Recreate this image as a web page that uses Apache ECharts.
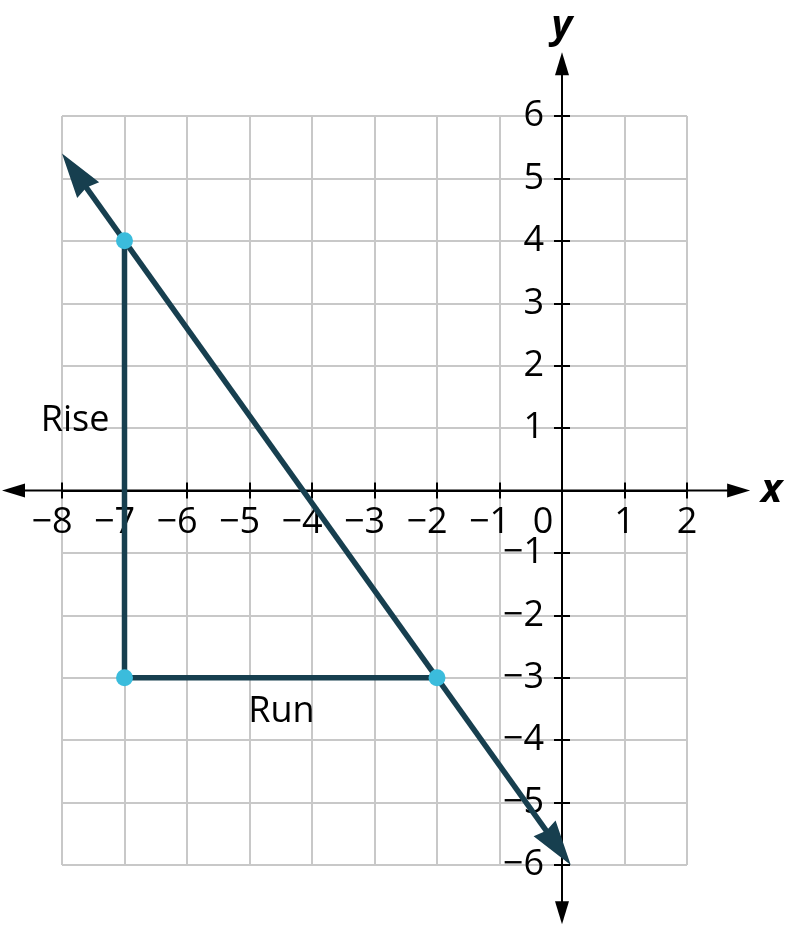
<!DOCTYPE html>
<html>
<head>
<meta charset="utf-8">
<script src="https://cdn.jsdelivr.net/npm/echarts@6/dist/echarts.min.js"></script>
<style>
  html, body { margin: 0; padding: 0; background: #fff; }
  #main { width: 787px; height: 930px; }
</style>
</head>
<body>
<div id="main"></div>
<script>
// axis ranges
const xRange = [-8, 2]
const yRange = [-6, 6]

// right triangle: top corner, right angle, end of run
const trianglePts = [[-7, 4], [-7, -3], [-2, -3]]
// the line, from arrow tip to arrow tip
const lineTips = [-8, 5.4, 0.14, -6]
// axis lines, arrow tip to arrow tip
const xAxisTips = [-8.96, 0, 3.01, 0]
const yAxisTips = [0, 7.02, 0, -6.95]

// text notes
const noteNames = ['Rise', 'Run']
const notePos = [[-7.79, 1.11], [-4.49, -3.54]]

const FONT = "'Open Sans', sans-serif"
const DARK = '#173f4f'
const DOT = '#3bbcdc'
const MINUS = '\u2212'

// plot box in px; the axes sit on the zero lines inside it
const G = { left: 62, right: 100, top: 116, bottom: 65 }
const W = 787 - G.left - G.right, H = 930 - G.top - G.bottom
const xAxisOffset = -H * (0 - yRange[0]) / (yRange[1] - yRange[0])
const yAxisOffset = -W * (0 - xRange[0]) / (xRange[1] - xRange[0])

let myChart = echarts.init(document.getElementById('main'))

const tickLabel = { fontFamily: FONT, fontSize: 36, color: '#000' }

// segment with an arrowhead at each end, tips at the data points
function arrowSeg(head, color, width) {
  return function (params, api) {
    const a = api.coord([api.value(0), api.value(1)])
    const b = api.coord([api.value(2), api.value(3)])
    const dx = b[0] - a[0], dy = b[1] - a[1]
    const len = Math.sqrt(dx * dx + dy * dy)
    const ux = dx / len, uy = dy / len
    const nx = -uy, ny = ux
    function headAt(tip, sx, sy) {
      const bx = tip[0] + sx * head.len, by = tip[1] + sy * head.len
      const pts = [tip, [bx + nx * head.half, by + ny * head.half]]
      if (head.notch) pts.push([tip[0] + sx * head.notch, tip[1] + sy * head.notch])
      pts.push([bx - nx * head.half, by - ny * head.half])
      return pts
    }
    const inset = (head.notch || head.len) * 0.8
    return {
      type: 'group',
      children: [{
        type: 'line',
        shape: {
          x1: a[0] + ux * inset, y1: a[1] + uy * inset,
          x2: b[0] - ux * inset, y2: b[1] - uy * inset
        },
        style: { stroke: color, lineWidth: width }
      }, {
        type: 'polygon', shape: { points: headAt(a, ux, uy) }, style: { fill: color }
      }, {
        type: 'polygon', shape: { points: headAt(b, -ux, -uy) }, style: { fill: color }
      }]
    }
  }
}

const nameStyle = { fontFamily: FONT, fontSize: 40, fontStyle: 'italic', fontWeight: 'bold', color: '#000' }
const tickStyle = { color: '#000', width: 2 }

myChart.setOption({
  animation: false,
  grid: Object.assign({ containLabel: false, outerBoundsMode: 'none' }, G),
  xAxis: [{
    type: 'value', min: xRange[0], max: xRange[1], interval: 1, position: 'bottom',
    offset: xAxisOffset,
    name: 'x', nameLocation: 'end', nameGap: 74, nameTextStyle: nameStyle,
    axisLine: { show: true, onZero: false, lineStyle: tickStyle },
    axisTick: { show: true, length: 8, lineStyle: tickStyle },
    axisLabel: Object.assign({}, tickLabel, {
      margin: 14,
      formatter: v => v === 0 ? '{z|0}' : (v < 0 ? '{n|' + MINUS + (-v) + '}' : String(v)),
      rich: {
        z: Object.assign({}, tickLabel, { padding: [0, 38, 0, 0] }),
        n: Object.assign({}, tickLabel, { padding: [0, 20, 0, 0] })
      }
    }),
    splitLine: { show: true, lineStyle: { color: '#c8c8c8', width: 2 } }
  }, {
    type: 'value', min: xRange[0], max: xRange[1], interval: 1, position: 'bottom',
    offset: xAxisOffset,
    axisLine: { show: true, onZero: false, lineStyle: tickStyle },
    axisTick: { show: true, inside: true, length: 8, lineStyle: tickStyle },
    axisLabel: { show: false },
    splitLine: { show: false }
  }],
  yAxis: [{
    type: 'value', min: yRange[0], max: yRange[1], interval: 1, position: 'left',
    offset: yAxisOffset,
    name: 'y', nameLocation: 'end', nameGap: 69, nameTextStyle: nameStyle,
    axisLine: { show: true, onZero: false, lineStyle: tickStyle },
    axisTick: { show: true, length: 8, lineStyle: tickStyle },
    axisLabel: Object.assign({}, tickLabel, {
      margin: 18,
      formatter: v => v === 0 ? '' : (v < 0 ? MINUS + (-v) : String(v))
    }),
    splitLine: { show: true, lineStyle: { color: '#c8c8c8', width: 2 } }
  }, {
    type: 'value', min: yRange[0], max: yRange[1], interval: 1, position: 'left',
    offset: yAxisOffset,
    axisLine: { show: true, onZero: false, lineStyle: tickStyle },
    axisTick: { show: true, inside: true, length: 8, lineStyle: tickStyle },
    axisLabel: { show: false },
    splitLine: { show: false }
  }],
  series: [{
    // the two axes, with arrows at both ends
    type: 'custom',
    z: 1,
    clip: false,
    silent: true,
    renderItem: arrowSeg({ len: 23, half: 7 }, '#000', 2),
    data: [xAxisTips, yAxisTips]
  }, {
    // rise and run
    type: 'line',
    z: 3,
    showSymbol: false,
    lineStyle: { color: DARK, width: 5.5 },
    data: trianglePts
  }, {
    // the line itself
    type: 'custom',
    z: 4,
    clip: false,
    silent: true,
    renderItem: arrowSeg({ len: 45, half: 13.5, notch: 42 }, DARK, 5.5),
    data: [lineTips]
  }, {
    type: 'scatter',
    z: 5,
    symbolSize: 17,
    itemStyle: { color: DOT, opacity: 1 },
    data: trianglePts
  }, {
    type: 'custom',
    z: 6,
    silent: true,
    renderItem: function (params, api) {
      const p = api.coord([api.value(0), api.value(1)])
      return {
        type: 'text', x: p[0], y: p[1],
        style: {
          text: noteNames[params.dataIndex], fill: '#000',
          fontFamily: FONT, fontSize: 36, align: 'center', verticalAlign: 'middle'
        }
      }
    },
    data: notePos
  }]
})
</script>
</body>
</html>
